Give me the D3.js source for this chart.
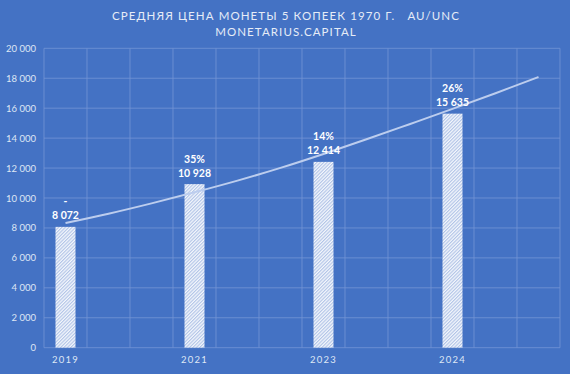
<!DOCTYPE html>
<html><head><meta charset="utf-8">
<script src="https://cdn.jsdelivr.net/npm/d3@7"></script>
<style>
html,body{margin:0;padding:0;background:#4472C4;}
svg{display:block;}
</style></head>
<body>
<svg id="chart" width="570" height="374"></svg>
<script>
const categories = ["2019","","","2021","","","2023","","","2024","",""];
const prices = [8072,null,null,10928,null,null,12414,null,null,15635,null,null];
const growth = ["-",null,null,"35%",null,null,"14%",null,null,"26%",null,null];
const trend = [8330,8950,9640,10380,11160,12010,12940,13920,14930,15950,17000,18080];
const yTicks = [0,2000,4000,6000,8000,10000,12000,14000,16000,18000,20000];
const titleLines = ["СРЕДНЯЯ ЦЕНА МОНЕТЫ 5 КОПЕЕК 1970 Г.   AU/UNC","MONETARIUS.CAPITAL"];

const W=570,H=374, L=44, R=560, T=48.3, B=347.7;
const svg=d3.select("#chart");
svg.append("rect").attr("width",W).attr("height",H).attr("fill","#4472C4");

const defs=svg.append("defs");
const pat=defs.append("pattern").attr("id","hatch").attr("patternUnits","userSpaceOnUse")
 .attr("width",2.4).attr("height",2.4).attr("patternTransform","rotate(45)");
pat.append("rect").attr("width",2.4).attr("height",2.4).attr("fill","#f4f7fc");
pat.append("line").attr("x1",0.6).attr("y1",0).attr("x2",0.6).attr("y2",2.4)
 .attr("stroke","#a9bde4").attr("stroke-width",1);

const idx=d3.range(categories.length);
const x=d3.scaleBand().domain(idx).range([L,R]).padding(0);
const y=d3.scaleLinear().domain([0,20000]).range([B,T]);
const gridColor="#7396d6";
const fmt=v=>d3.format(",")(v).replace(/,/g," ");

// horizontal grid
svg.append("g").selectAll("line").data(yTicks).join("line")
 .attr("x1",L).attr("x2",R).attr("y1",d=>y(d)).attr("y2",d=>y(d))
 .attr("stroke",gridColor).attr("stroke-width",0.8);
// vertical grid
const vb=idx.map(i=>x(i)).concat([R]);
svg.append("g").selectAll("line").data(vb).join("line")
 .attr("x1",d=>d).attr("x2",d=>d).attr("y1",T).attr("y2",B)
 .attr("stroke",gridColor).attr("stroke-width",0.8);

// y axis labels
const yAxis=d3.axisLeft(y).tickValues(yTicks).tickFormat(fmt).tickSize(0).tickPadding(8);
const ga=svg.append("g").attr("transform",`translate(${L},0)`).call(yAxis);
ga.select(".domain").remove();
ga.selectAll("text").attr("fill","#dfe7f5").attr("font-family","Lato, 'Open Sans', sans-serif").attr("font-size","9.5px");

// x axis labels
const xAxis=d3.axisBottom(x).tickFormat(i=>categories[i]).tickSize(0).tickPadding(9);
const gx=svg.append("g").attr("transform",`translate(0,${B})`).call(xAxis);
gx.select(".domain").remove();
gx.selectAll("text").attr("fill","#dfe7f5").attr("font-family","Lato, 'Open Sans', sans-serif").attr("font-size","9.5px").attr("letter-spacing","1.2px");

// bars
const bw=20;
const barData=idx.filter(i=>prices[i]!=null);
svg.append("g").selectAll("rect").data(barData).join("rect")
 .attr("x",i=>x(i)+x.bandwidth()/2-bw/2).attr("width",bw)
 .attr("y",i=>y(prices[i])).attr("height",i=>B-y(prices[i]))
 .attr("fill","url(#hatch)");

// trend line
const line=d3.line().x((d,i)=>x(i)+x.bandwidth()/2).y(d=>y(d)).curve(d3.curveMonotoneX);
svg.append("path").datum(trend).attr("d",line).attr("fill","none")
 .attr("stroke","#bccdee").attr("stroke-width",2);

// labels
const lg=svg.append("g").attr("font-family","Lato, 'Open Sans', sans-serif").attr("font-weight","bold")
 .attr("font-size","10.5px").attr("fill","#ffffff").attr("text-anchor","middle");
lg.selectAll("text.v").data(barData).join("text").attr("class","v")
 .attr("x",i=>x(i)+x.bandwidth()/2).attr("y",i=>y(prices[i])-7.5).text(i=>fmt(prices[i]));
lg.selectAll("text.g").data(barData).join("text").attr("class","g")
 .attr("x",i=>x(i)+x.bandwidth()/2).attr("y",i=>y(prices[i])-21.5).text(i=>growth[i]);

// title
svg.append("g").selectAll("text").data(titleLines).join("text")
 .attr("x",286).attr("y",(d,i)=>20+i*15.5).attr("text-anchor","middle")
 .attr("fill","#e6ecf7").attr("font-family","Lato, 'Open Sans', sans-serif")
 .attr("font-size","11.5px").attr("letter-spacing","1.1px").style("white-space","pre")
 .text(d=>d);
</script>
</body></html>
